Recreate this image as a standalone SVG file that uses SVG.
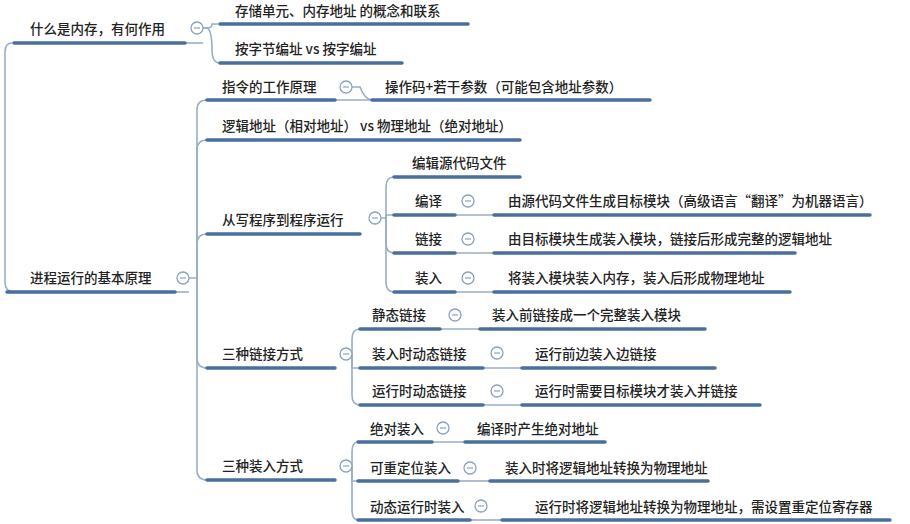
<svg xmlns="http://www.w3.org/2000/svg" width="910" height="524" viewBox="0 0 910 524">
<style>
text{font-family:"Noto Sans CJK SC","Liberation Sans",sans-serif;font-size:13.5px;fill:#222;font-weight:500}
.u{stroke:#4a6f9c;stroke-width:3.5;stroke-linecap:round}
.c{fill:none;stroke:#9aaec4;stroke-width:1.6}
</style>
<defs>
<g id="col"><circle r="6" fill="#fff" stroke="#8aa2c0" stroke-width="1.3"/><line x1="-3" y1="0" x2="3" y2="0" stroke="#8aa2c0" stroke-width="1.2"/></g>
</defs>
<rect width="910" height="524" fill="#fff"/>
<g id="connectors" class="c">
<path d="M12,43 Q5,43 5,52 V282 Q5,292 14,292"/>
<path d="M203,28 H207 Q212,28 212,24 Q214,24 218,24"/>
<path d="M203,28 H207 Q212,30 212,50 Q212,63 220,63"/>
<path d="M189,278 H197 V110 Q197,100 207,100"/>
<path d="M197,278 V150 Q197,140 207,140"/>
<path d="M197,278 V244 Q197,234 207,234"/>
<path d="M197,278 V358 Q197,368 207,368"/>
<path d="M197,278 V470 Q197,480 207,480"/>
<path d="M352,87 H360 Q365,100 372,100"/>
<path d="M381,218 H386 V187 Q386,177 394,177"/>
<path d="M386,218 V215 H394"/>
<path d="M386,218 V243 Q386,253 394,253"/>
<path d="M386,218 V282 Q386,292 394,292"/>
<path d="M352,354 H352 V339 Q352,329 360,329"/>
<path d="M340,354 H352 V368 H360"/>
<path d="M352,354 V395 Q352,405 360,405"/>
<path d="M352,466 V452 Q352,442 358,442"/>
<path d="M340,466 H352 V481 H358"/>
<path d="M352,466 V510 Q352,520 358,520"/>
<path d="M432,442 H465"/><path d="M458,481 H490"/><path d="M470,520 H502"/>
<path d="M440,329 H480"/><path d="M483,368 H522"/><path d="M483,405 H522"/>
<path d="M455,215 H494"/><path d="M455,253 H494"/><path d="M455,292 H494"/>
<path d="M335,100 H372"/>
<path d="M175,43 H203"/><path d="M175,292 H189"/>
</g>
<g id="n-root"><line class="u" x1="7" y1="292" x2="175" y2="292"/><text x="30" y="283">进程运行的基本原理</text><use href="#col" x="183" y="278"/></g>
<g id="n-mem"><line class="u" x1="14" y1="43" x2="185" y2="43"/><text x="30" y="34">什么是内存，有何作用</text><use href="#col" x="197" y="28"/></g>
<g id="n-m1"><line class="u" x1="220" y1="24" x2="468" y2="24"/><text x="235" y="16">存储单元、内存地址 的概念和联系</text></g>
<g id="n-m2"><line class="u" x1="220" y1="63" x2="402" y2="63"/><text x="235" y="54">按字节编址 vs 按字编址</text></g>
<g id="n-ins"><line class="u" x1="207" y1="100" x2="335" y2="100"/><text x="222" y="92">指令的工作原理</text><use href="#col" x="346" y="87"/></g>
<g id="n-ins1"><line class="u" x1="372" y1="100" x2="650" y2="100"/><text x="385" y="92">操作码+若干参数（可能包含地址参数）</text></g>
<g id="n-addr"><line class="u" x1="207" y1="140" x2="520" y2="140"/><text x="222" y="131">逻辑地址（相对地址） vs 物理地址（绝对地址）</text></g>
<g id="n-prog"><line class="u" x1="207" y1="234" x2="360" y2="234"/><text x="222" y="225">从写程序到程序运行</text><use href="#col" x="375" y="218"/></g>
<g id="n-p1"><line class="u" x1="394" y1="177" x2="520" y2="177"/><text x="412" y="168">编辑源代码文件</text></g>
<g id="n-p2"><line class="u" x1="394" y1="215" x2="455" y2="215"/><text x="415" y="206">编译</text><use href="#col" x="468" y="201"/></g>
<g id="n-p2a"><line class="u" x1="494" y1="215" x2="870" y2="215"/><text x="508" y="206">由源代码文件生成目标模块（高级语言“翻译”为机器语言）</text></g>
<g id="n-p3"><line class="u" x1="394" y1="253" x2="455" y2="253"/><text x="415" y="244">链接</text><use href="#col" x="468" y="239"/></g>
<g id="n-p3a"><line class="u" x1="494" y1="253" x2="795" y2="253"/><text x="508" y="244">由目标模块生成装入模块，链接后形成完整的逻辑地址</text></g>
<g id="n-p4"><line class="u" x1="394" y1="292" x2="455" y2="292"/><text x="415" y="283">装入</text><use href="#col" x="468" y="278"/></g>
<g id="n-p4a"><line class="u" x1="494" y1="292" x2="790" y2="292"/><text x="508" y="283">将装入模块装入内存，装入后形成物理地址</text></g>
<g id="n-link"><line class="u" x1="207" y1="368" x2="335" y2="368"/><text x="222" y="359">三种链接方式</text><use href="#col" x="346" y="354"/></g>
<g id="n-l1"><line class="u" x1="360" y1="329" x2="440" y2="329"/><text x="372" y="320">静态链接</text><use href="#col" x="455" y="315"/></g>
<g id="n-l1a"><line class="u" x1="480" y1="329" x2="705" y2="329"/><text x="492" y="320">装入前链接成一个完整装入模块</text></g>
<g id="n-l2"><line class="u" x1="360" y1="368" x2="483" y2="368"/><text x="372" y="359">装入时动态链接</text><use href="#col" x="497" y="353"/></g>
<g id="n-l2a"><line class="u" x1="522" y1="368" x2="715" y2="368"/><text x="535" y="359">运行前边装入边链接</text></g>
<g id="n-l3"><line class="u" x1="360" y1="405" x2="483" y2="405"/><text x="372" y="396">运行时动态链接</text><use href="#col" x="497" y="391"/></g>
<g id="n-l3a"><line class="u" x1="522" y1="405" x2="760" y2="405"/><text x="535" y="396">运行时需要目标模块才装入并链接</text></g>
<g id="n-load"><line class="u" x1="207" y1="480" x2="335" y2="480"/><text x="222" y="471">三种装入方式</text><use href="#col" x="346" y="466"/></g>
<g id="n-d1"><line class="u" x1="358" y1="442" x2="432" y2="442"/><text x="370" y="434">绝对装入</text><use href="#col" x="443" y="428"/></g>
<g id="n-d1a"><line class="u" x1="465" y1="442" x2="605" y2="442"/><text x="477" y="434">编译时产生绝对地址</text></g>
<g id="n-d2"><line class="u" x1="358" y1="481" x2="458" y2="481"/><text x="370" y="473">可重定位装入</text><use href="#col" x="470" y="468"/></g>
<g id="n-d2a"><line class="u" x1="490" y1="481" x2="708" y2="481"/><text x="505" y="473">装入时将逻辑地址转换为物理地址</text></g>
<g id="n-d3"><line class="u" x1="358" y1="520" x2="470" y2="520"/><text x="370" y="512">动态运行时装入</text><use href="#col" x="481" y="506"/></g>
<g id="n-d3a"><line class="u" x1="502" y1="520" x2="890" y2="520"/><text x="535" y="512">运行时将逻辑地址转换为物理地址，需设置重定位寄存器</text></g>
</svg>
